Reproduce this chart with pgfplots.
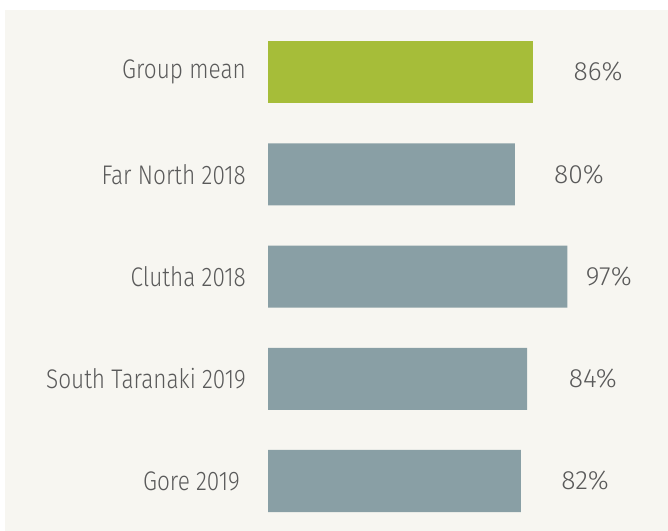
\documentclass[border=0pt]{standalone}
\usepackage{fontspec}
\setmainfont{Fira Sans}[UprightFont=* Light, FakeStretch=0.84]
\newfontfamily\valfont{Fira Sans}[UprightFont=* Light]
\usepackage{pgfplots}
\pgfplotsset{compat=1.18}
\definecolor{bgbeige}{RGB}{247,246,241}
\definecolor{barGreen}{RGB}{166,189,57}
\definecolor{barGrey}{RGB}{137,159,165}
\definecolor{txtGrey}{RGB}{90,90,90}
\begin{document}
\begin{tikzpicture}[x=1bp,y=1bp]
\fill[white] (0,0) rectangle (668,531);
\fill[bgbeige] (5,0) rectangle (668,520.5);
\begin{axis}[
  at={(268bp,0bp)}, anchor=south west,
  scale only axis, width=400bp, height=511bp,
  xmin=0, xmax=129.66, ymin=-0.489, ymax=4.509,
  hide x axis,
  axis y line*=left,
  y axis line style={draw=none},
  ytick={0,1,2,3,4},
  yticklabels={{\hspace*{-6bp}Gore 2019\hspace*{6bp}}, South Taranaki 2019, Clutha 2018, Far North 2018, Group mean},
  major tick length=0pt,
  ytick style={draw=none},
  yticklabel style={font=\fontsize{27}{31}\selectfont, text=txtGrey, inner sep=0pt, anchor=east, xshift=-22bp},
  xbar, bar width=62bp, bar shift=0pt,
  clip=false,
]
\addplot[fill=barGrey, draw=none] coordinates {(82,0) (84,1) (97,2) (80,3)};
\addplot[fill=barGreen, draw=none] coordinates {(86,4)};
\begin{scope}[every node/.style={font=\valfont\fontsize{26.5}{30}\selectfont, text=txtGrey}]
\node at (axis cs:107.0,4) {86\%};
\node at (axis cs:100.8,3) {80\%};
\node at (axis cs:110.5,2) {97\%};
\node at (axis cs:105.3,1) {84\%};
\node at (axis cs:102.8,0) {82\%};
\end{scope}
\end{axis}
\end{tikzpicture}
\end{document}
